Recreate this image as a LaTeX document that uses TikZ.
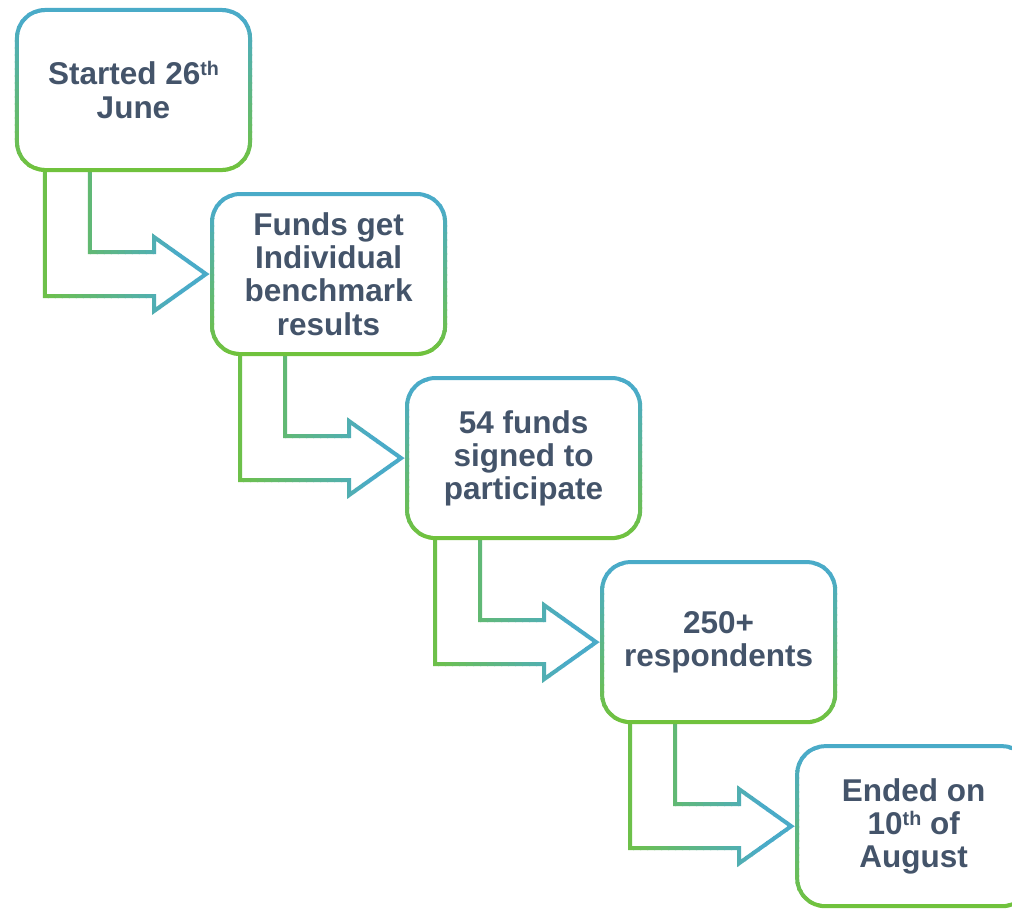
\documentclass[tikz,border=0pt]{standalone}
\usepackage{fontspec}
\setmainfont{Liberation Sans}
\usetikzlibrary{calc}
\definecolor{stepblue}{HTML}{4AABC8}
\definecolor{stepgreen}{HTML}{6DC04A}
\definecolor{steptext}{HTML}{44546A}
\tikzstyle{stepbox} = [rectangle, minimum width=5.825cm, minimum height=4cm, outer sep=0pt, align=center, text=steptext, font=\fontsize{22.4}{23.6}\selectfont\bfseries]
\tikzstyle{gradline} = [line width=0.1cm]
\newcommand{\ordsup}[1]{\raisebox{6.5pt}{\fontsize{14}{14}\selectfont #1}}

\begin{document}
\begin{tikzpicture}[x=0.025cm, y=-0.025cm, node distance=4.875cm]
  \clip (0,0) rectangle (1012,910);
  \fill[white] (0,0) rectangle (1012,910);

  \node (b1) [stepbox] at (133.5,90) {Started 26\ordsup{th}\\June};
  \node (b2) [stepbox, right of=b1, yshift=-4.6cm] {Funds get\\Individual\\benchmark\\results};
  \node (b3) [stepbox, right of=b2, yshift=-4.6cm] {54 funds\\signed to\\participate};
  \node (b4) [stepbox, right of=b3, yshift=-4.6cm] {250+\\respondents};
  \node (b5) [stepbox, right of=b4, yshift=-4.6cm] {Ended on\\10\ordsup{th} of\\August};

  % bent arrows, green to blue from left to right
  \foreach \a/\c in {b1/b2, b2/b3, b3/b4, b4/b5} {
    \foreach \i in {0,...,24} {
      \pgfmathtruncatemacro\pct{min(100,100*\i/19)}
      \begin{scope}
        \clip ($(\a.south west)+(24+\i*7,-2)$) rectangle ++(8,200);
        \draw [gradline, stepblue!\pct!stepgreen] ($(\a.south west)+(28,0)$) |- ($(\c.west)+(-58,22)$)
          -- ++(0,15) -- ($(\c.west)+(-6,0)$) -- ++(-52,-37) -- ++(0,15) -| ($(\a.south west)+(73,0)$);
      \end{scope}
    }
  }

  % box borders, blue on top to green at the bottom
  \foreach \b in {b1,b2,b3,b4,b5} {
    \foreach \i in {0,...,23} {
      \pgfmathtruncatemacro\pct{min(100,100-100*(\i-2)/19)}
      \begin{scope}
        \clip ($(\b.north west)+(-10,\i*7-4)$) rectangle ++(260,8);
        \draw [gradline, rounded corners=0.7cm, stepblue!\pct!stepgreen] (\b.north west) rectangle (\b.south east);
      \end{scope}
    }
  }
\end{tikzpicture}
\end{document}
